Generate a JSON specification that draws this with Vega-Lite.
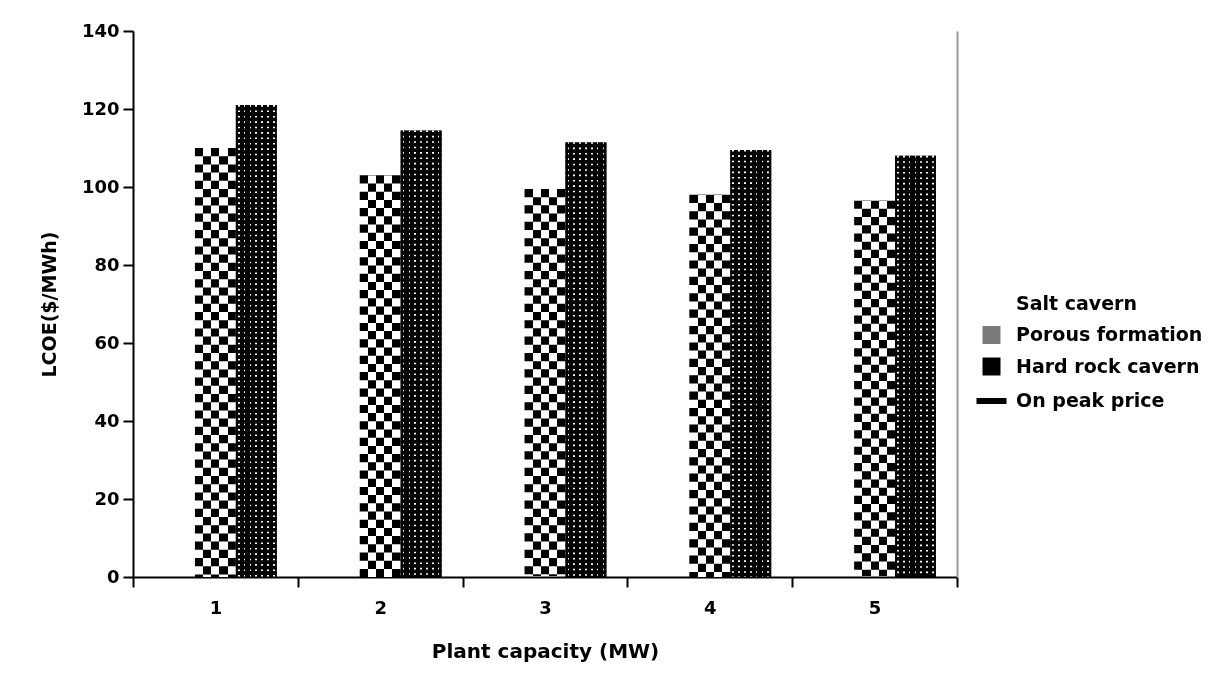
{
  "$schema": "https://vega.github.io/schema/vega-lite/v6.json",
  "width": 824,
  "height": 546,
  "autosize": "none",
  "padding": {"left": 133, "top": 31, "right": 270, "bottom": 112},
  "background": "white",
  "data": {
    "values": [
      {"capacity": "1", "series": "Porous formation", "value": 110},
      {"capacity": "1", "series": "Hard rock cavern", "value": 121},
      {"capacity": "2", "series": "Porous formation", "value": 103},
      {"capacity": "2", "series": "Hard rock cavern", "value": 114.5},
      {"capacity": "3", "series": "Porous formation", "value": 99.5},
      {"capacity": "3", "series": "Hard rock cavern", "value": 111.5},
      {"capacity": "4", "series": "Porous formation", "value": 98},
      {"capacity": "4", "series": "Hard rock cavern", "value": 109.5},
      {"capacity": "5", "series": "Porous formation", "value": 96.5},
      {"capacity": "5", "series": "Hard rock cavern", "value": 108}
    ]
  },
  "layer": [
    {
      "encoding": {
        "x": {"field": "capacity", "type": "nominal", "title": "Plant capacity (MW)", "scale": {"paddingInner": 0, "paddingOuter": 0}},
        "xOffset": {"field": "series", "type": "nominal", "scale": {"domain": ["Salt cavern", "Porous formation", "Hard rock cavern"], "paddingInner": 0, "paddingOuter": 0.513}}
      },
      "layer": [
        {
          "transform": [{"filter": "datum.series === 'Porous formation'"}],
          "mark": {"type": "rule", "color": "#000000", "strokeWidth": 40.93, "strokeDash": [8.2, 8.2]},
          "encoding": {
            "y": {"field": "value", "type": "quantitative", "scale": {"domain": [0, 140], "nice": false}, "title": "LCOE($/MWh)"},
            "y2": {"datum": 0}
          }
        },
        {
          "transform": [{"filter": "datum.series === 'Porous formation'"}],
          "mark": {
            "type": "bar",
            "blend": "difference",
            "fill": {
              "gradient": "linear", "x1": 0, "y1": 0, "x2": 1, "y2": 0,
              "stops": [
                {"offset": 0, "color": "#000000"}, {"offset": 0.2, "color": "#000000"},
                {"offset": 0.2, "color": "#ffffff"}, {"offset": 0.4, "color": "#ffffff"},
                {"offset": 0.4, "color": "#000000"}, {"offset": 0.6, "color": "#000000"},
                {"offset": 0.6, "color": "#ffffff"}, {"offset": 0.8, "color": "#ffffff"},
                {"offset": 0.8, "color": "#000000"}, {"offset": 1, "color": "#000000"}
              ]
            }
          },
          "encoding": {
            "y": {"field": "value", "type": "quantitative", "scale": {"domain": [0, 140], "nice": false}, "title": "LCOE($/MWh)"}
          }
        },
        {
          "transform": [{"filter": "datum.series === 'Hard rock cavern'"}],
          "mark": {"type": "bar"},
          "encoding": {
            "y": {"field": "value", "type": "quantitative", "scale": {"domain": [0, 140], "nice": false}, "title": "LCOE($/MWh)"},
            "color": {
              "field": "series", "type": "nominal",
              "scale": {"domain": ["Salt cavern", "Porous formation", "Hard rock cavern", "On peak price"], "range": ["#ffffff", "#7a7a7a", "#000000", "#000000"]},
              "legend": {
                "title": null, "orient": "none", "legendX": 849, "legendY": 263,
                "symbolType": "square", "symbolSize": 324, "symbolStrokeWidth": 0,
                "labelOffset": 15, "labelLimit": 0, "rowPadding": 11.5, "padding": 0,
                "encode": {
                  "symbols": {
                    "update": {
                      "shape": {"signal": "datum.value === 'On peak price' ? 'stroke' : 'square'"},
                      "fill": {"signal": "datum.value === 'Porous formation' ? '#6e6e6e' : datum.value === 'Hard rock cavern' ? '#262626' : datum.value === 'Salt cavern' ? '#ffffff' : 'transparent'"},
                      "stroke": {"signal": "datum.value === 'On peak price' ? '#000000' : 'transparent'"},
                      "strokeWidth": {"signal": "datum.value === 'On peak price' ? 6 : 0"},
                      "size": {"signal": "datum.value === 'On peak price' ? 900 : 324"}
                    }
                  }
                }
              }
            }
          }
        },
        {
          "transform": [{"filter": "datum.series === 'Hard rock cavern'"}],
          "mark": {"type": "rule", "color": "#ffffff", "strokeWidth": 40.93, "strokeDash": [1.6, 3.8]},
          "encoding": {
            "y": {"field": "value", "type": "quantitative", "scale": {"domain": [0, 140], "nice": false}, "title": "LCOE($/MWh)"},
            "y2": {"datum": 0}
          }
        },
        {
          "transform": [{"filter": "datum.series === 'Hard rock cavern'"}],
          "mark": {
            "type": "bar",
            "blend": "multiply",
            "fill": {
              "gradient": "linear", "x1": 0, "y1": 0, "x2": 1, "y2": 0,
              "stops": [
                {"offset": 0, "color": "#000000"}, {"offset": 0.05, "color": "#000000"},
                {"offset": 0.05, "color": "#ffffff"}, {"offset": 0.09, "color": "#ffffff"},
                {"offset": 0.09, "color": "#000000"}, {"offset": 0.193, "color": "#000000"},
                {"offset": 0.193, "color": "#ffffff"}, {"offset": 0.233, "color": "#ffffff"},
                {"offset": 0.233, "color": "#000000"}, {"offset": 0.336, "color": "#000000"},
                {"offset": 0.336, "color": "#ffffff"}, {"offset": 0.376, "color": "#ffffff"},
                {"offset": 0.376, "color": "#000000"}, {"offset": 0.479, "color": "#000000"},
                {"offset": 0.479, "color": "#ffffff"}, {"offset": 0.519, "color": "#ffffff"},
                {"offset": 0.519, "color": "#000000"}, {"offset": 0.621, "color": "#000000"},
                {"offset": 0.621, "color": "#ffffff"}, {"offset": 0.661, "color": "#ffffff"},
                {"offset": 0.661, "color": "#000000"}, {"offset": 0.764, "color": "#000000"},
                {"offset": 0.764, "color": "#ffffff"}, {"offset": 0.804, "color": "#ffffff"},
                {"offset": 0.804, "color": "#000000"}, {"offset": 0.907, "color": "#000000"},
                {"offset": 0.907, "color": "#ffffff"}, {"offset": 0.947, "color": "#ffffff"},
                {"offset": 0.947, "color": "#000000"}, {"offset": 1, "color": "#000000"}
              ]
            }
          },
          "encoding": {
            "y": {"field": "value", "type": "quantitative", "scale": {"domain": [0, 140], "nice": false}, "title": "LCOE($/MWh)"}
          }
        }
      ]
    },
    {
      "mark": {"type": "rule", "opacity": 0},
      "encoding": {
        "y": {
          "field": "value", "type": "quantitative", "scale": {"domain": [0, 140], "nice": false},
          "axis": {"orient": "right", "labels": false, "ticks": false, "title": null, "domainColor": "#9a9a9a", "domainWidth": 2}
        }
      }
    }
  ],
  "resolve": {"axis": {"y": "independent"}},
  "config": {
    "font": "DejaVu Sans",
    "view": {"stroke": null},
    "axis": {
      "labelFont": "DejaVu Sans", "labelFontWeight": "bold", "labelFontSize": 18, "labelColor": "#000000",
      "titleFont": "DejaVu Sans", "titleFontWeight": "bold", "titleFontSize": 19, "titleColor": "#000000",
      "domainColor": "#000000", "domainWidth": 2, "tickColor": "#000000", "tickWidth": 2, "tickSize": 10, "grid": false
    },
    "axisX": {"labelAngle": 0, "tickBand": "extent", "labelPadding": 12, "titlePadding": 24, "titleFontSize": 20},
    "axisY": {"labelPadding": 4, "titlePadding": 22, "tickCount": 7},
    "legend": {"labelFont": "DejaVu Sans", "labelFontWeight": "bold", "labelFontSize": 19, "labelColor": "#000000"}
  }
}
